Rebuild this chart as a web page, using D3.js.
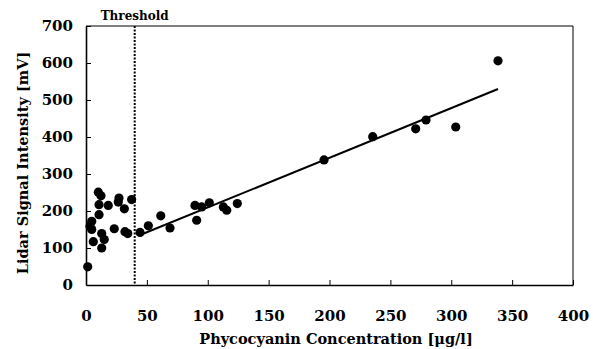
<!DOCTYPE html>
<html>
<head>
<meta charset="utf-8">
<script src="https://cdn.jsdelivr.net/npm/d3@7"></script>
<style>
  body { margin: 0; background: #fff; }
  text { font-family: "DejaVu Serif", serif; font-weight: bold; fill: #000; }
</style>
</head>
<body>
<div id="chart"></div>
<script>
// phycocyanin [ug/l] vs lidar signal [mV]
const concentration = [1.4, 6, 4.7, 3.3, 4.7, 10.1, 12.3, 10.7, 18.3, 27.1, 26.5, 31.5, 37.5,
    10.7, 23.2, 32, 34.3, 12.9, 15, 12.9,
    44.4, 51.2, 61.4, 69, 89.5, 95, 101.3, 90.9, 112.8, 115.6, 124.3,
    195.5, 235.5, 270.8, 279.3, 303.7, 338.4];
const signal = [49, 117, 172, 159, 150, 251, 241, 217, 215, 235, 224, 206, 231,
    190, 152, 144, 139, 139, 123, 100,
    142, 160, 187, 154, 215, 211, 222, 175, 211, 202, 220,
    338, 401, 422, 446, 427, 606];

const threshold = 40;
const fitRange = [44.4, 338.4];
const fitSlope = 1.342, fitIntercept = 75.5;

const xTicks = [0, 50, 100, 150, 200, 250, 300, 350, 400];
const yTicks = [0, 100, 200, 300, 400, 500, 600, 700];

const W = 593, H = 349;
const m = {left: 86, right: 20, top: 26, bottom: 64};

const svg = d3.select('#chart').append('svg')
    .attr('width', W).attr('height', H);

const x = d3.scaleLinear().domain([0, 400]).range([m.left, W - m.right]);
const y = d3.scaleLinear().domain([0, 700]).range([H - m.bottom, m.top]);

// thin frame top / right
svg.append('path')
    .attr('d', `M${x(0)},${y(700)}H${x(400)}V${y(0)}`)
    .attr('fill', 'none').attr('stroke', '#000').attr('stroke-width', 1);

let xAxis = svg.append('g')
    .attr('transform', `translate(0,${y(0)})`)
    .call(d3.axisBottom(x).tickValues(xTicks).tickSizeInner(-5).tickSizeOuter(0).tickPadding(25));
let yAxis = svg.append('g')
    .attr('transform', `translate(${x(0)},0)`)
    .call(d3.axisLeft(y).tickValues(yTicks).tickSizeInner(-5).tickSizeOuter(0).tickPadding(13));

[xAxis, yAxis].forEach(g => {
    g.select('.domain').attr('stroke-width', 1.6);
    g.selectAll('.tick line').attr('stroke-width', 1);
    g.selectAll('.tick text').style('font-size', '15px');
});
xAxis.selectAll('.tick').filter(d => d === 0).select('line').remove();
yAxis.selectAll('.tick').filter(d => d === 0).select('line').remove();

// threshold line
svg.append('line')
    .attr('x1', x(threshold)).attr('x2', x(threshold))
    .attr('y1', y(700)).attr('y2', y(0))
    .attr('stroke', '#000').attr('stroke-width', 2)
    .attr('stroke-dasharray', '2,1.5');

svg.append('text')
    .attr('x', x(threshold)).attr('y', 20)
    .attr('text-anchor', 'middle')
    .style('font-size', '12px')
    .text('Threshold');

// regression line
let line = d3.line()
    .x(d => x(d))
    .y(d => y(fitSlope * d + fitIntercept));
svg.append('path').datum(fitRange)
    .attr('d', line)
    .attr('fill', 'none').attr('stroke', '#000').attr('stroke-width', 2);

svg.append('g').selectAll('circle')
    .data(concentration.map((c, i) => [c, signal[i]]))
    .join('circle')
    .attr('cx', d => x(d[0])).attr('cy', d => y(d[1]))
    .attr('r', 4.6).attr('fill', '#000');

svg.append('text')
    .attr('x', 336).attr('y', 344)
    .attr('text-anchor', 'middle')
    .style('font-size', '14.5px')
    .text('Phycocyanin Concentration [\u03bcg/l]');

svg.append('text')
    .attr('transform', `translate(28,163) rotate(-90)`)
    .attr('text-anchor', 'middle')
    .style('font-size', '14.5px')
    .text('Lidar Signal Intensity [mV]');
</script>
</body>
</html>
